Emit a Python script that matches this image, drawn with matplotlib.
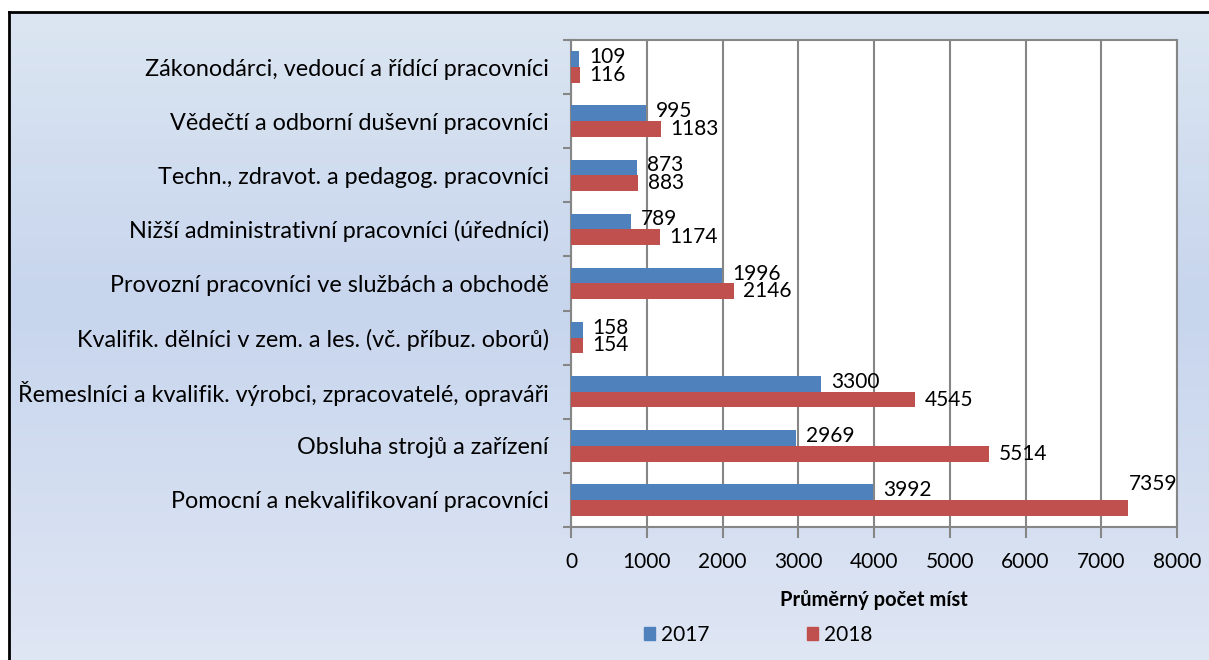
import numpy as np
import matplotlib.pyplot as plt
from matplotlib.patches import Patch

categories = [
    "Zákonodárci, vedoucí a řídící pracovníci",
    "Vědečtí a odborní duševní pracovníci",
    "Techn., zdravot. a pedagog. pracovníci",
    "Nižší administrativní pracovníci (úředníci)",
    "Provozní pracovníci ve službách a obchodě",
    "Kvalifik. dělníci v zem. a les. (vč. příbuz. oborů)",
    "Řemeslníci a kvalifik. výrobci, zpracovatelé, opraváři",
    "Obsluha strojů a zařízení",
    "Pomocní a nekvalifikovaní pracovníci",
]
values_2017 = [109, 995, 873, 789, 1996, 158, 3300, 2969, 3992]
values_2018 = [116, 1183, 883, 1174, 2146, 154, 4545, 5514, 7359]
series_names = ["2017", "2018"]
x_ticks = [0, 1000, 2000, 3000, 4000, 5000, 6000, 7000, 8000]

BLUE = "#4f81bd"
RED = "#c0504d"
GRID = "#868686"
FONT = "Lato"

plt.rcParams["font.family"] = [FONT, "DejaVu Sans"]

W, H = 1209, 660
fig = plt.figure(figsize=(W / 100, H / 100), dpi=100, facecolor="white")

# gradient background with black frame on left/top
bg = fig.add_axes([9 / W, 0, 1 - 9 / W, 1 - 12 / H], zorder=0)
top = np.array([220, 230, 242]) / 255
mid = np.array([199, 213, 237]) / 255
bot = np.array([223, 230, 244]) / 255
t = np.linspace(0, 1, 200)[:, None]
grad = np.where(t < 0.45, top + (mid - top) * (t / 0.45), mid + (bot - mid) * ((t - 0.45) / 0.55))
bg.imshow(grad[:, None, :].repeat(2, axis=1), aspect="auto", extent=[0, 1, 0, 1])
bg.set_xticks([])
bg.set_yticks([])
for side in ["right", "bottom"]:
    bg.spines[side].set_visible(False)
for side in ["left", "top"]:
    bg.spines[side].set_color("black")
    bg.spines[side].set_linewidth(2)

ax = fig.add_axes([571 / W, 1 - 527 / H, (1177 - 571) / W, (527 - 40) / H], zorder=1)
ax.set_facecolor("white")

y = np.arange(len(categories))
h = 0.29
b1 = ax.barh(y - h / 2, values_2017, height=h, color=BLUE, zorder=3, label=series_names[0])
b2 = ax.barh(y + h / 2, values_2018, height=h, color=RED, zorder=3, label=series_names[1])

ax.set_xlim(0, 8000)
ax.set_ylim(len(categories) - 0.5, -0.5)
ax.set_xticks(x_ticks)
ax.set_xticklabels([str(v) for v in x_ticks], fontsize=15)
ax.set_yticks(y)
ax.set_yticklabels(categories, fontsize=16.8)
ax.set_yticks(np.arange(len(categories) + 1) - 0.5, minor=True)
ax.tick_params(axis="y", which="major", length=0, pad=16)
ax.tick_params(axis="y", which="minor", length=6, color=GRID, width=1.5)
ax.tick_params(axis="x", length=8, color=GRID, width=1.5, pad=10)
ax.grid(axis="x", color=GRID, linewidth=1.5, zorder=1)
for s in ax.spines.values():
    s.set_color(GRID)
    s.set_linewidth(1.5)

for bars, vals, dy in ((b1, values_2017, 1.5), (b2, values_2018, 0)):
    for bar, v in zip(bars, vals):
        cy = bar.get_y() + bar.get_height() / 2
        if v > 7000:
            ax.annotate(str(v), (v, cy), xytext=(0, 17), textcoords="offset points",
                        ha="left", va="center", fontsize=15)
        else:
            ax.annotate(str(v), (v, cy), xytext=(7, dy), textcoords="offset points",
                        ha="left", va="center", fontsize=15)

ax.set_xlabel("Průměrný počet míst", fontsize=14.5, fontweight="bold", labelpad=13)

handles = [Patch(color=BLUE), Patch(color=RED)]
fig.legend(handles, series_names, loc="center", bbox_to_anchor=(758 / W, 1 - 635 / H),
           ncol=2, frameon=False, fontsize=15, handlelength=0.55, handleheight=0.55,
           handletextpad=0.25, columnspacing=4.7)

fig.savefig("out.png", dpi=100, facecolor="white")
